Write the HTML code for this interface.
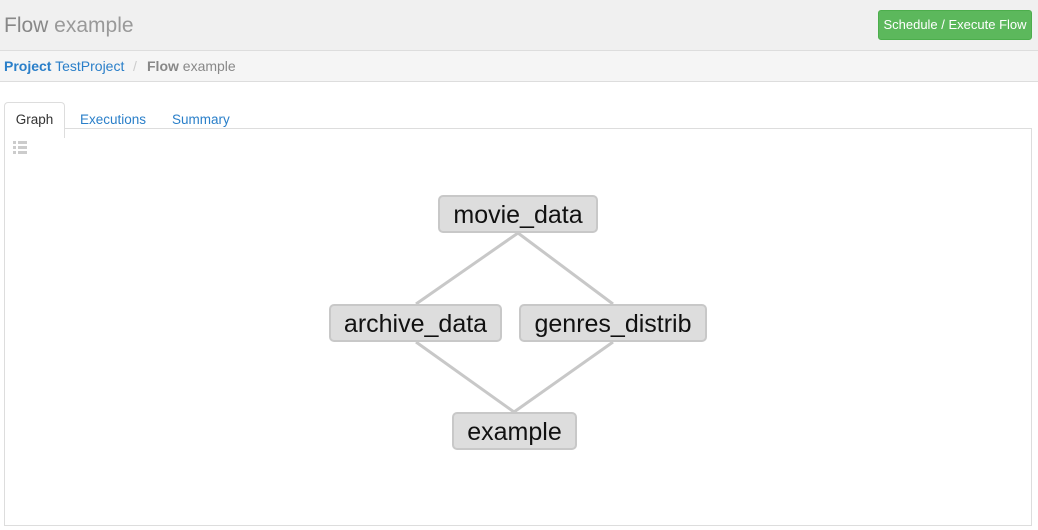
<!DOCTYPE html>
<html><head><style>
body{margin:0;width:1038px;height:530px;background:#fff;font-family:"Liberation Sans",sans-serif;position:relative;overflow:hidden}
.hdr{position:absolute;left:0;top:0;width:1038px;height:50px;background:#f0f0f0;border-bottom:1px solid #ddd}
.title{position:absolute;left:4px;top:14px;font-size:21px;color:#999}
.title b{font-weight:normal;color:#888}
.btn{position:absolute;left:878px;top:10px;width:154px;height:30px;background:#5cb85c;border:1px solid #4cae4c;border-radius:3px;box-sizing:border-box;color:#fff;font-size:13px;text-align:center;line-height:28px}
.bc{position:absolute;left:0;top:51px;width:1038px;height:30px;background:#f5f5f5;border-bottom:1px solid #ddd;font-size:14px;line-height:30px}
.bc span{position:absolute;top:0}
.tab{position:absolute;top:102px;height:27px;font-size:13.5px;line-height:36px;color:#2a7fc9}
.panel{position:absolute;left:4px;top:128px;width:1028px;height:398px;border:1px solid #ddd;box-sizing:border-box}
.node{position:absolute;background:#ddd;border:2px solid #c8c8c8;border-radius:5px;box-sizing:border-box;font-size:25px;text-align:center;line-height:37px;color:#111}
</style></head><body>
<div class="hdr"><div class="title"><b>Flow</b> example</div><div class="btn">Schedule / Execute Flow</div></div>
<div class="bc"><span style="left:4px;color:#2a7fc9"><b>Project</b> TestProject</span><span style="left:133px;color:#ccc">/</span><span style="left:147px;color:#888"><b>Flow</b> example</span></div>
<div class="panel"></div>
<div style="position:absolute;left:4px;top:102px;width:61px;height:36px;border:1px solid #ddd;border-bottom:none;border-radius:4px 4px 0 0;background:#fff;box-sizing:border-box;font-size:13.5px;color:#333;text-align:center;line-height:34px">Graph</div>
<div class="tab" style="left:80px">Executions</div>
<div class="tab" style="left:172px">Summary</div>
<div style="position:absolute;left:13px;top:141px;width:14px">
<div style="height:3px;margin-bottom:2px;background:linear-gradient(90deg,#ccc 3px,#fff 3px,#fff 5px,#ccc 5px)"></div>
<div style="height:3px;margin-bottom:2px;background:linear-gradient(90deg,#ccc 3px,#fff 3px,#fff 5px,#ccc 5px)"></div>
<div style="height:3px;background:linear-gradient(90deg,#ccc 3px,#fff 3px,#fff 5px,#ccc 5px)"></div></div>
<svg style="position:absolute;left:0;top:0" width="1038" height="530"><g stroke="#c8c8c8" stroke-width="3">
<line x1="518" y1="233" x2="416" y2="304"/><line x1="518" y1="233" x2="613" y2="304"/>
<line x1="416" y1="342" x2="514" y2="412"/><line x1="613" y1="342" x2="514" y2="412"/></g></svg>
<div class="node" style="left:438px;top:195px;width:160px;height:38px">movie_data</div>
<div class="node" style="left:329px;top:304px;width:173px;height:38px">archive_data</div>
<div class="node" style="left:519px;top:304px;width:188px;height:38px">genres_distrib</div>
<div class="node" style="left:452px;top:412px;width:125px;height:38px">example</div>
</body></html>
